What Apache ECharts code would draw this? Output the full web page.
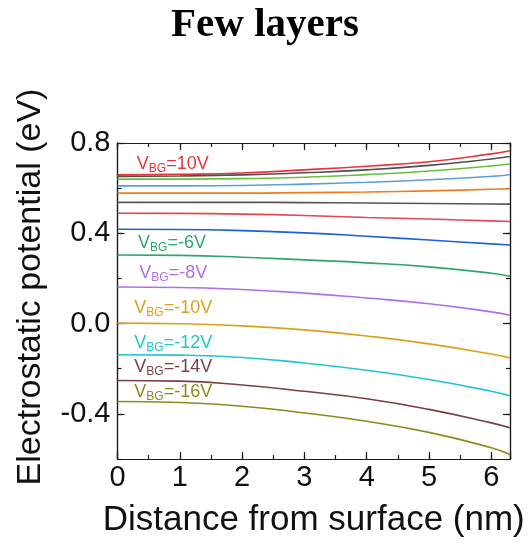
<!DOCTYPE html>
<html>
<head>
<meta charset="utf-8">
<script src="https://cdn.jsdelivr.net/npm/echarts@6/dist/echarts.min.js"></script>
<style>
  html, body { margin: 0; padding: 0; background: #ffffff; }
  #chart { width: 530px; height: 546px; }
</style>
</head>
<body>
<div id="chart"></div>
<script>
// Distance from the surface (nm) at which each potential profile is sampled
const distanceNm = [0, 1, 2, 3, 4, 5, 6, 6.3];

// Electrostatic potential (eV) for each back-gate voltage
const vbgP10 = [0.659, 0.661, 0.667, 0.681, 0.697, 0.717, 0.752, 0.766];
const vbgP8  = [0.652, 0.654, 0.659, 0.668, 0.681, 0.701, 0.729, 0.740];
const vbgP6  = [0.640, 0.640, 0.642, 0.648, 0.660, 0.676, 0.698, 0.707];
const vbgP4  = [0.610, 0.610, 0.612, 0.618, 0.626, 0.637, 0.652, 0.659];
const vbgP2  = [0.578, 0.578, 0.578, 0.580, 0.583, 0.588, 0.595, 0.597];
const vbg0   = [0.537, 0.537, 0.537, 0.536, 0.534, 0.532, 0.530, 0.529];
const vbgM2  = [0.489, 0.488, 0.485, 0.479, 0.470, 0.463, 0.455, 0.452];
const vbgM4  = [0.418, 0.417, 0.412, 0.402, 0.387, 0.370, 0.353, 0.348];
const vbgM6  = [0.304, 0.302, 0.294, 0.282, 0.269, 0.251, 0.223, 0.210];
const vbgM8  = [0.162, 0.160, 0.151, 0.135, 0.113, 0.088, 0.052, 0.037];
const vbgM10 = [0.002, -0.001, -0.010, -0.028, -0.055, -0.090, -0.135, -0.152];
const vbgM12 = [-0.138, -0.140, -0.150, -0.175, -0.207, -0.248, -0.300, -0.320];
const vbgM14 = [-0.252, -0.255, -0.272, -0.300, -0.333, -0.380, -0.440, -0.462];
const vbgM16 = [-0.345, -0.350, -0.366, -0.396, -0.433, -0.482, -0.550, -0.580];

// Axis tick labels
const xTickLabels = [0, 1, 2, 3, 4, 5, 6];
const yTickLabels = [-0.4, 0.0, 0.4, 0.8];

// Curves in drawing order: voltage text, values, colour, label anchor (data units) or null
const curves = [
  ['10V',  vbgP10, '#e8333a', [0.31, 0.708]],
  ['8V',   vbgP8,  '#4f4f4f', null],
  ['6V',   vbgP6,  '#6cbf3a', null],
  ['4V',   vbgP4,  '#5c9fd8', null],
  ['2V',   vbgP2,  '#f07a1e', null],
  ['0V',   vbg0,   '#555555', null],
  ['-2V',  vbgM2,  '#e2474e', null],
  ['-4V',  vbgM4,  '#1f5fd6', null],
  ['-6V',  vbgM6,  '#2ea66a', [0.33, 0.357]],
  ['-8V',  vbgM8,  '#b06fe6', [0.35, 0.224]],
  ['-10V', vbgM10, '#d9a21c', [0.27, 0.068]],
  ['-12V', vbgM12, '#1ec6d3', [0.27, -0.087]],
  ['-14V', vbgM14, '#7b3f44', [0.27, -0.194]],
  ['-16V', vbgM16, '#8c8c1e', [0.27, -0.305]]
];

const frameColor = '#1a1a1a';
const sansFont = 'Liberation Sans, Arial, sans-serif';

const series = curves.map(([volt, values, color, anchor]) => {
  const s = {
    name: 'VBG=' + volt,
    type: 'line',
    xAxisIndex: 0,
    yAxisIndex: 0,
    smooth: true,
    showSymbol: false,
    symbol: 'none',
    lineStyle: { color: color, width: 1.6 },
    data: distanceNm.map((x, i) => [x, values[i]])
  };
  if (anchor) {
    s.markPoint = {
      silent: true,
      symbol: 'circle',
      symbolSize: 0,
      label: {
        show: true,
        position: 'right',
        distance: 0,
        color: color,
        fontFamily: sansFont,
        formatter: '{v|V}{s|BG}{v|=' + volt + '}',
        rich: {
          v: { fontSize: 18, color: color, fontFamily: sansFont },
          s: { fontSize: 12, color: color, fontFamily: sansFont, padding: [9, 0, 0, 0] }
        }
      },
      data: [{ coord: anchor }]
    };
  }
  return s;
});

const xRange = { min: 0, max: 6.3 };
const yRange = { min: -0.6, max: 0.8 };

function frameLine() {
  return { show: true, onZero: false, lineStyle: { color: frameColor, width: 1.2 } };
}

function xAxisDef(position, major) {
  const isMainBottom = major && position === 'bottom';
  return Object.assign({
    type: 'value',
    position: position,
    interval: major ? 1 : 0.5,
    axisLine: frameLine(),
    axisTick: { show: true, inside: true, length: major ? 7 : 4, lineStyle: { color: frameColor, width: 1.2 } },
    axisLabel: isMainBottom ? {
      show: true,
      margin: 4,
      fontSize: 29,
      color: '#111',
      fontFamily: sansFont,
      formatter: v => (xTickLabels.includes(v) ? String(v) : '')
    } : { show: false },
    splitLine: { show: false },
    name: isMainBottom ? 'Distance from surface (nm)' : '',
    nameLocation: 'middle',
    nameGap: 44,
    nameTextStyle: { fontSize: 35, color: '#111', fontFamily: sansFont }
  }, xRange);
}

function yAxisDef(position, major) {
  const isMainLeft = major && position === 'left';
  const def = Object.assign({
    type: 'value',
    position: position,
    axisLine: frameLine(),
    axisTick: { show: true, inside: true, length: major ? 7 : 4, lineStyle: { color: frameColor, width: 1.2 } },
    axisLabel: isMainLeft ? {
      show: true,
      margin: 7,
      fontSize: 29,
      color: '#111',
      fontFamily: sansFont,
      customValues: yTickLabels,
      formatter: v => v.toFixed(1)
    } : { show: false },
    splitLine: { show: false },
    name: isMainLeft ? 'Electrostatic potential (eV)' : '',
    nameLocation: 'middle',
    nameGap: 70,
    nameTextStyle: { fontSize: 34, color: '#111', fontFamily: sansFont, padding: [0, 0, 0, 28] }
  }, yRange);
  if (major) {
    def.axisTick.customValues = yTickLabels;
  } else {
    def.interval = 0.2;
  }
  return def;
}

const chart = echarts.init(document.getElementById('chart'), null, { renderer: 'canvas' });
chart.setOption({
  animation: false,
  backgroundColor: '#ffffff',
  title: {
    text: 'Few layers',
    left: 'center',
    top: 0,
    textStyle: { fontFamily: 'Liberation Serif, Times New Roman, serif', fontWeight: 'bold', fontSize: 41, color: '#000' }
  },
  grid: { left: 117.5, right: 20, top: 143, bottom: 87, containLabel: false },
  xAxis: [xAxisDef('bottom', true), xAxisDef('bottom', false), xAxisDef('top', true), xAxisDef('top', false)],
  yAxis: [yAxisDef('left', true), yAxisDef('left', false), yAxisDef('right', true), yAxisDef('right', false)],
  series: series
});
</script>
</body>
</html>
